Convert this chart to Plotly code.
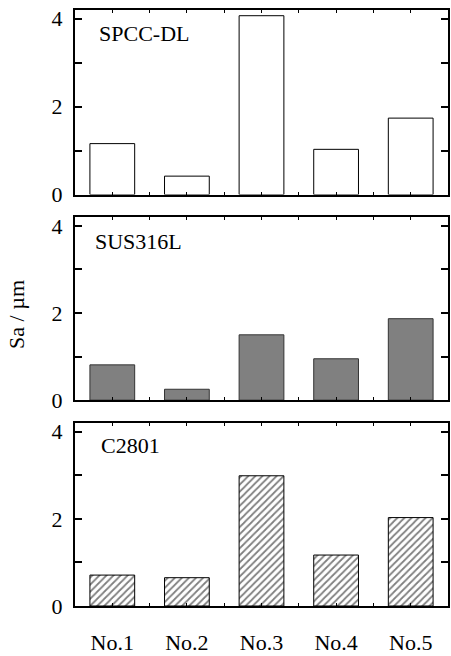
import plotly.graph_objects as go

categories = ["No.1", "No.2", "No.3", "No.4", "No.5"]
panel_names = ["SPCC-DL", "SUS316L", "C2801"]
spcc_dl = [1.16, 0.42, 4.07, 1.03, 1.74]
sus316l = [0.81, 0.25, 1.50, 0.95, 1.87]
c2801 = [0.71, 0.65, 2.99, 1.17, 2.03]
y_title = "Sa / µm"

FONT = "Liberation Serif"
xpos = list(range(len(categories)))

fig = go.Figure()

fig.add_trace(go.Bar(x=xpos, y=spcc_dl, width=0.6, xaxis="x", yaxis="y",
                     marker=dict(color="white", line=dict(color="black", width=1))))
fig.add_trace(go.Bar(x=xpos, y=sus316l, width=0.6, xaxis="x2", yaxis="y2",
                     marker=dict(color="#808080", line=dict(color="#333333", width=1))))
fig.add_trace(go.Bar(x=xpos, y=c2801, width=0.6, xaxis="x3", yaxis="y3",
                     marker=dict(color="white", line=dict(color="black", width=1),
                                 pattern=dict(shape="/", fgcolor="black", bgcolor="white",
                                              size=5, solidity=0.35))))

top_px, bot_px = 10, 616
span = bot_px - top_px
def frac(px):
    return (bot_px - px) / span

doms = [[frac(197.7), 1.0], [frac(406.7), frac(220.7)], [0.0, frac(430)]]

common_x = dict(range=[-0.5, 4.5], showline=True, linewidth=2, linecolor="black",
                mirror="ticks", ticks="inside", ticklen=3, tickwidth=1, tickcolor="black",
                tickvals=xpos, ticktext=categories, showgrid=False, zeroline=False,
                minor=dict(dtick=0.5, tick0=0.5, ticks="inside", ticklen=3, tickcolor="black"),
                tickfont=dict(family=FONT, size=22, color="black"))
common_y = dict(range=[0, 4.2], showline=True, linewidth=2, linecolor="black",
                mirror="ticks", ticks="inside", ticklen=7, tickwidth=2, tickcolor="black",
                tickvals=[0, 2, 4], showgrid=False, zeroline=False,
                minor=dict(tickvals=[1, 3], ticks="inside", ticklen=7, tickwidth=2, tickcolor="black"),
                tickfont=dict(family=FONT, size=22, color="black"), ticklabelstandoff=6)

layout = dict(width=451, height=656, margin=dict(l=75, r=1, t=10, b=40),
              paper_bgcolor="white", plot_bgcolor="white", showlegend=False,
              font=dict(family=FONT, size=22, color="black"))
for i, d in enumerate(doms):
    sx = "" if i == 0 else str(i + 1)
    xa = dict(common_x, anchor="y" + sx, showticklabels=(i == 2), ticklabelstandoff=16)
    ya = dict(common_y, anchor="x" + sx, domain=d)
    if i > 0:
        xa["matches"] = "x"
    layout["xaxis" + sx] = xa
    layout["yaxis" + sx] = ya

annotations = []
label_left = [97, 93, 99]
label_mid = [34, 245, 453]
for i, name in enumerate(panel_names):
    annotations.append(dict(text=name, xref="paper", yref="paper",
                            x=(label_left[i] - 75) / 375, y=frac(label_mid[i]),
                            xanchor="left", yanchor="middle", showarrow=False,
                            font=dict(family=FONT, size=22, color="black")))
annotations.append(dict(text=y_title, xref="paper", yref="paper", x=0, y=frac(320),
                        xshift=-58, textangle=-90, xanchor="center", yanchor="middle",
                        showarrow=False, font=dict(family=FONT, size=22, color="black")))
layout["annotations"] = annotations

fig.update_layout(**layout)
fig.write_html("out.html")
